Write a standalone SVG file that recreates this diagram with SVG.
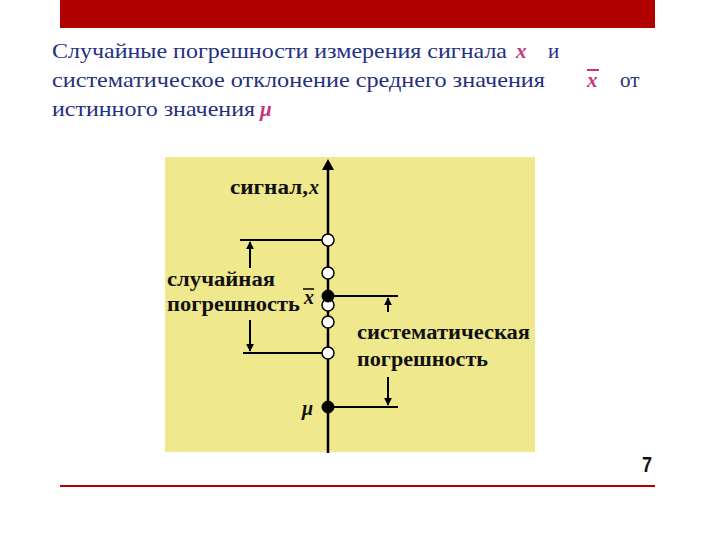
<svg xmlns="http://www.w3.org/2000/svg" width="720" height="540" viewBox="0 0 720 540">
<style>
.t{font-family:"Liberation Serif","Times New Roman",serif;font-size:21px;fill:#24307f}
.m{font-family:"Liberation Serif","Times New Roman",serif;font-size:21px;font-weight:bold;font-style:italic;fill:#c8357a}
.l{font-family:"Liberation Serif","Times New Roman",serif;font-size:20px;font-weight:bold;fill:#111}
.li{font-family:"Liberation Serif","Times New Roman",serif;font-size:20px;font-weight:bold;font-style:italic;fill:#111}
.ln{stroke:#000;stroke-width:2.5;fill:none}
.a{stroke:#000;stroke-width:2;fill:none}
.oc{fill:#fff;stroke:#000;stroke-width:1.5}
.fc{fill:#000;stroke:#000;stroke-width:1}
</style>
<defs>
<marker id="ah" viewBox="0 0 10 10" refX="9" refY="5" markerWidth="4" markerHeight="4" orient="auto"><path d="M0,0 L10,5 L0,10 z" fill="#000"/></marker>
</defs>
<rect x="0" y="0" width="720" height="540" fill="#fff"/>
<rect id="topbar" x="60" y="0" width="595" height="28" fill="#b00000"/>
<line id="bottomline" x1="60" y1="486" x2="655" y2="486" stroke="#b00000" stroke-width="2"/>
<g id="title">
<text class="t" x="52" y="58" textLength="455" lengthAdjust="spacingAndGlyphs">Случайные погрешности измерения сигнала</text>
<text class="m" x="516" y="58">x</text>
<text class="t" x="548" y="58">и</text>
<text class="t" x="52" y="87" textLength="493" lengthAdjust="spacingAndGlyphs">систематическое  отклонение среднего значения</text>
<text class="m" x="587" y="87">x</text>
<line x1="587" y1="70" x2="599" y2="70" stroke="#c8357a" stroke-width="2"/>
<text class="t" x="620" y="87">от</text>
<text class="t" x="52" y="116" textLength="203" lengthAdjust="spacingAndGlyphs">истинного значения</text>
<text class="m" x="260" y="116">μ</text>
</g>
<rect id="panel" x="165" y="157" width="370" height="295" fill="#efe88c"/>
<g id="connectors">
<line class="ln" x1="328" y1="453" x2="328" y2="164"/>
<path d="M322,170 L328,159 L334,170 z" fill="#000"/>
<line class="a" x1="240" y1="240" x2="328" y2="240"/>
<line class="a" x1="250" y1="268" x2="250" y2="242" marker-end="url(#ah)"/>
<line class="a" x1="243" y1="353" x2="328" y2="353"/>
<line class="a" x1="250" y1="320" x2="250" y2="351" marker-end="url(#ah)"/>
<line class="a" x1="328" y1="296" x2="398" y2="296"/>
<line class="a" x1="388" y1="312" x2="388" y2="298" marker-end="url(#ah)"/>
<line class="a" x1="328" y1="407" x2="398" y2="407"/>
<line class="a" x1="388" y1="377" x2="388" y2="405" marker-end="url(#ah)"/>
</g>
<g id="points">
<circle class="oc" cx="328" cy="240" r="6"/>
<circle class="oc" cx="328" cy="273" r="6"/>
<circle class="oc" cx="328" cy="305" r="6"/>
<circle class="fc" cx="328" cy="296" r="6"/>
<circle class="oc" cx="328" cy="322" r="6"/>
<circle class="oc" cx="328" cy="353" r="6"/>
<circle class="fc" cx="328" cy="407" r="6"/>
</g>
<g id="labels">
<text class="l" x="230" y="194" textLength="78" lengthAdjust="spacingAndGlyphs">сигнал,</text>
<text class="li" x="309" y="194">x</text>
<text class="l" x="167" y="286" textLength="108" lengthAdjust="spacingAndGlyphs">случайная</text>
<text class="l" x="167" y="311" textLength="133" lengthAdjust="spacingAndGlyphs">погрешность</text>
<text class="li" x="304" y="304">x</text>
<line x1="303" y1="289" x2="314" y2="289" stroke="#000" stroke-width="1.5"/>
<text class="l" x="357" y="339" textLength="173" lengthAdjust="spacingAndGlyphs">систематическая</text>
<text class="l" x="357" y="366" textLength="131" lengthAdjust="spacingAndGlyphs">погрешность</text>
<text class="li" x="302" y="415">μ</text>
</g>
<text id="pagenum" x="642" y="472" font-family="Liberation Sans,Arial,sans-serif" font-size="22" font-weight="bold" fill="#111" textLength="10" lengthAdjust="spacingAndGlyphs">7</text>
</svg>
